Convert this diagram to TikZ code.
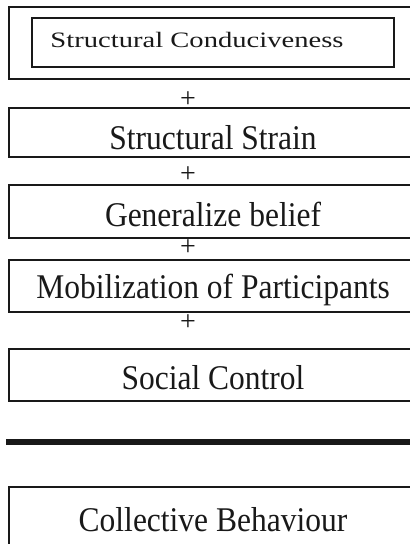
\documentclass[tikz,border=0pt]{standalone}
\usepackage{fontspec}
\setmainfont{Liberation Serif}
\begin{document}
\begin{tikzpicture}[x=1pt,y=-1pt,
  box/.style={draw=black!90,line width=2pt,minimum width=408pt,inner sep=0pt},
  txt/.style={font=\fontsize{31.5}{36}\selectfont,inner sep=0pt,text=black!90,yscale=1.1},
  plus/.style={font=\fontsize{28}{32}\selectfont,inner sep=0pt,text=black!90}]
\useasboundingbox (0,0) rectangle (410,544);
\clip (0,0) rectangle (410,544);
% box 1 with inner box
\node[box,minimum height=72pt] (b1) at (213,43) {};
\node[draw=black!90,line width=2pt,minimum width=362pt,minimum height=49pt,inner sep=0pt] (b1i) at (213,42.5) {};
\node[inner sep=0pt,anchor=base,xscale=1.3,font=\fontsize{22}{26}\selectfont,text=black!90] (t1) at (197,47) {Structural Conduciveness};
\node[plus] (p1) at (188,100) {+};
% box 2
\node[box,minimum height=49pt] (b2) at (213,132.5) {};
\node[txt,anchor=base] (t2) at (213,149) {Structural Strain};
\node[plus] (p2) at (188,175) {+};
% box 3
\node[box,minimum height=53pt] (b3) at (213,211.5) {};
\node[txt,anchor=base] (t3) at (213,226) {Generalize belief};
\node[plus] (p3) at (188,248) {+};
% box 4
\node[box,minimum height=52pt] (b4) at (213,286) {};
\node[txt,anchor=base] (t4) at (213,298) {Mobilization of Participants};
\node[plus] (p4) at (188,323) {+};
% box 5
\node[box,minimum height=52pt] (b5) at (213,375) {};
\node[txt,anchor=base] (t5) at (213,389) {Social Control};
% thick rule
\coordinate (r1) at (6,442);
\coordinate (r2) at (420,442);
\draw[line width=6pt,black!90] (r1) -- (r2);
% box 6
\node[box,minimum height=80pt] (b6) at (213,527) {};
\node[txt,anchor=base] (t6) at (213,531) {Collective Behaviour};
\end{tikzpicture}
\end{document}
